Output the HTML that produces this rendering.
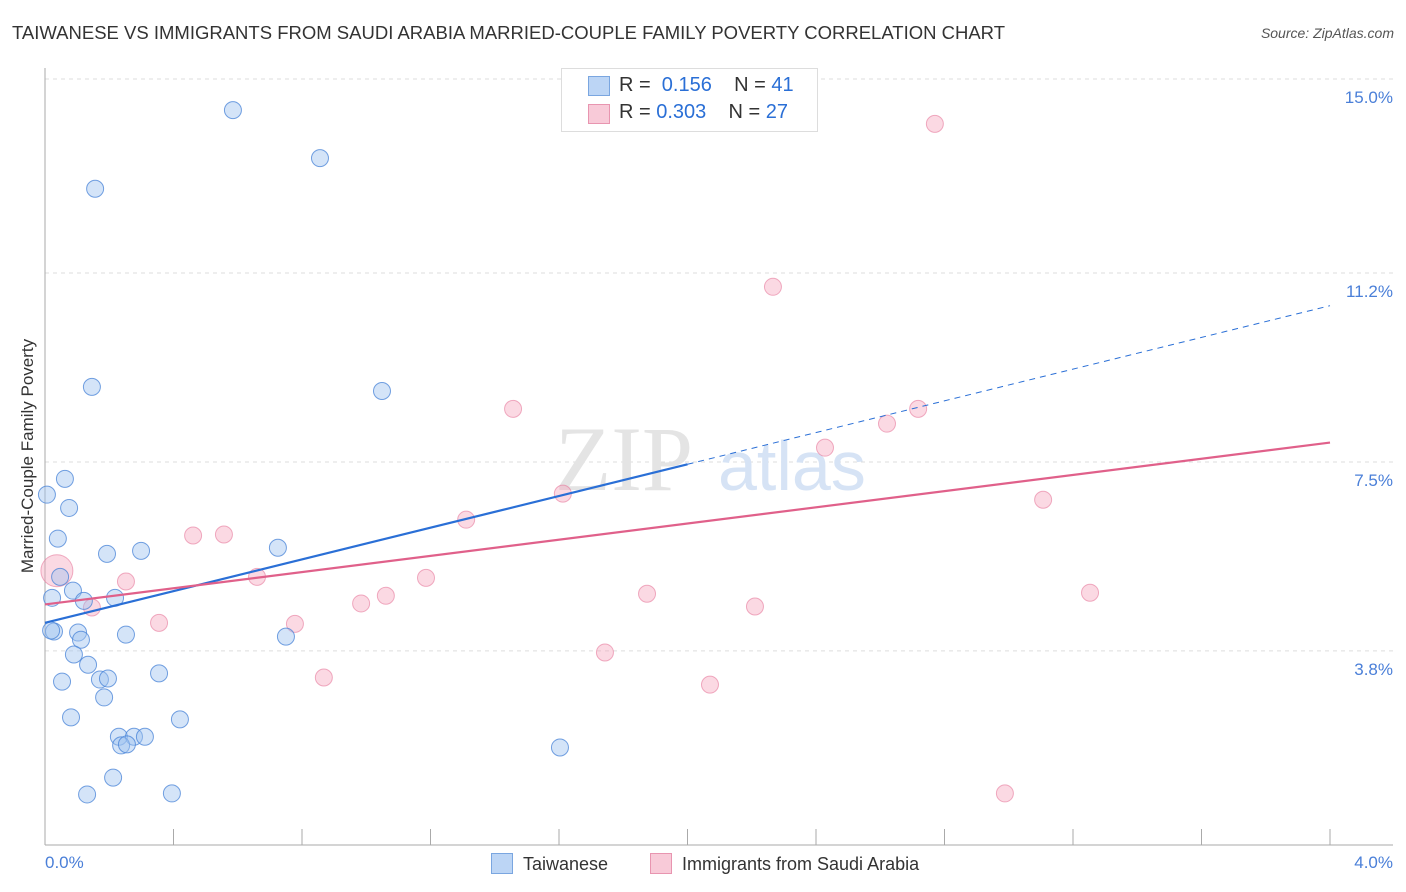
<!DOCTYPE html>
<html><head><meta charset="utf-8"><style>
body{margin:0;background:#fff;font-family:"Liberation Sans",sans-serif;}
#wrap{position:relative;width:1406px;height:892px;overflow:hidden;}
.t{position:absolute;white-space:nowrap;}
</style></head><body>
<div id="wrap">
<div class="t" style="left:12px;top:22px;font-size:18.5px;color:#333;">TAIWANESE VS IMMIGRANTS FROM SAUDI ARABIA MARRIED-COUPLE FAMILY POVERTY CORRELATION CHART</div>
<div class="t" style="right:12px;top:25px;font-size:14px;color:#555;font-style:italic;">Source: ZipAtlas.com</div>
<svg id="svg" width="1406" height="892" style="position:absolute;left:0;top:0"></svg>
</div>
<script>
const blueX=[0.585,0.856,0.156,0.146,1.049,0.062,0.006,0.075,0.040,0.193,0.299,0.725,0.047,0.022,0.218,0.087,0.121,0.028,0.019,0.103,0.112,0.252,0.750,0.090,0.134,0.053,0.171,0.196,0.355,0.184,0.081,0.420,0.230,0.277,0.311,0.237,0.255,1.603,0.212,0.131,0.395];
const blueY=[14.39,13.45,12.85,8.97,8.89,7.17,6.86,6.60,6.00,5.70,5.76,5.82,5.25,4.84,4.84,4.98,4.78,4.18,4.20,4.16,4.02,4.12,4.08,3.73,3.53,3.20,3.24,3.26,3.36,2.89,2.50,2.46,2.12,2.12,2.12,1.95,1.97,1.91,1.32,0.99,1.01];
const pinkX=[0.037,1.457,2.770,2.266,2.718,2.621,2.428,1.612,1.311,3.107,0.461,0.557,0.252,0.660,1.186,1.061,0.984,0.146,0.355,0.778,1.874,2.210,3.253,1.743,0.868,2.070,2.988];
const pinkY=[5.37,8.54,14.12,10.93,8.54,8.25,7.78,6.88,6.37,6.76,6.06,6.08,5.16,5.25,5.23,4.88,4.73,4.65,4.35,4.33,4.92,4.67,4.94,3.77,3.28,3.14,1.01];
const pinkSize=[3,1,1,1,1,1,1,1,1,1,1,1,1,1,1,1,1,1,1,1,1,1,1,1,1,1,1];
const blueTrend=[4.35,10.56];
const pinkTrend=[4.71,7.88];
const yTicks=[15.0,11.2,7.5,3.8];
const yTickLabels=["15.0%","11.2%","7.5%","3.8%"];
const xTicks=[0.4,0.8,1.2,1.6,2.0,2.4,2.8,3.2,3.6,4.0];

const X=v=>45+v*321.25, Y=v=>845-v*51.07;
const svg=document.getElementById('svg');
const NS='http://www.w3.org/2000/svg';
function mk(tag,a){const e=document.createElementNS(NS,tag);for(const k in a)e.setAttribute(k,a[k]);svg.appendChild(e);return e;}
yTicks.forEach((v,i)=>{
 const g=mk('line',{x1:45,x2:1393,y1:Y(v),y2:Y(v),stroke:'#ddd','stroke-dasharray':'4,4'});
 
 
 const t=mk('text',{x:1393,y:Y(v)+24,'text-anchor':'end','font-size':17,fill:'#4a7fd8','font-family':'Liberation Sans'});
 t.textContent=yTickLabels[i];
 
 
});
const ax=mk('line',{x1:45,x2:45,y1:68,y2:845,stroke:'#aaa'});


const bx=mk('line',{x1:45,x2:1393,y1:845,y2:845,stroke:'#aaa'});


xTicks.forEach(v=>{const l=mk('line',{x1:X(v),x2:X(v),y1:829,y2:845,stroke:'#aaa'});
 
 });
const wm=mk('text',{x:555,y:490,'font-size':92,fill:'#e4e4e4','font-family':'Liberation Serif'});wm.textContent='ZIP';


const wm2=mk('text',{x:718,y:490,'font-size':70,fill:'#d6e3f5','font-family':'Liberation Sans'});wm2.textContent='atlas';


pinkX.forEach((x,i)=>{const c=mk('circle',{cx:X(x),cy:Y(pinkY[i]),r:pinkSize[i]>1?16:8.5,fill:'rgba(244,160,185,0.4)',stroke:'rgba(230,120,155,0.6)','stroke-width':1});
 
 });
blueX.forEach((x,i)=>{const c=mk('circle',{cx:X(x),cy:Y(blueY[i]),r:8.5,fill:'rgba(160,196,240,0.45)',stroke:'rgba(70,130,215,0.75)','stroke-width':1});
 
 });
const bAt=v=>blueTrend[0]+(blueTrend[1]-blueTrend[0])*v/4;
const b1=mk('line',{x1:X(0),y1:Y(bAt(0)),x2:X(2),y2:Y(bAt(2)),stroke:'#2a6fd6','stroke-width':2.2});


const b2=mk('line',{x1:X(2),y1:Y(bAt(2)),x2:X(4),y2:Y(bAt(4)),stroke:'#2a6fd6','stroke-width':1,'stroke-dasharray':'6,5'});


const p1=mk('line',{x1:X(0),y1:Y(pinkTrend[0]),x2:X(4),y2:Y(pinkTrend[1]),stroke:'#e0608a','stroke-width':2.2});


</script>
<div class="t" style="left:28px;top:456px;font-size:17px;color:#333;transform:translate(-50%,-50%) rotate(-90deg);">Married-Couple Family Poverty</div>
<div class="t" style="left:45px;top:853px;font-size:17px;color:#4a7fd8;">0.0%</div>
<div class="t" style="right:13px;top:853px;font-size:17px;color:#4a7fd8;">4.0%</div>
<div style="position:absolute;left:561px;top:68px;width:255px;height:62px;border:1px solid #ddd;background:#fff;font-size:20px;color:#333;">
 <div class="t" style="left:26px;top:7px;width:20px;height:18px;background:#bcd5f5;border:1px solid #7aa6e0;"></div>
 <div class="t" style="left:57px;top:5px;">R = <span style="color:#2a6fd6">&nbsp;0.156</span>&nbsp;&nbsp;&nbsp;&nbsp;N = <span style="color:#2a6fd6">41</span></div>
 <div class="t" style="left:26px;top:35px;width:20px;height:18px;background:#f8cad8;border:1px solid #e895b0;"></div>
 <div class="t" style="left:57px;top:32px;">R = <span style="color:#2a6fd6">0.303</span>&nbsp;&nbsp;&nbsp;&nbsp;N = <span style="color:#2a6fd6">27</span></div>
</div>
<div class="t" style="left:491px;top:853px;font-size:18px;color:#333;"><span style="display:inline-block;width:20px;height:19px;background:#bcd5f5;border:1px solid #7aa6e0;vertical-align:-4px;margin-right:10px;"></span>Taiwanese</div>
<div class="t" style="left:650px;top:853px;font-size:18px;color:#333;"><span style="display:inline-block;width:20px;height:19px;background:#f8cad8;border:1px solid #e895b0;vertical-align:-4px;margin-right:10px;"></span>Immigrants from Saudi Arabia</div>
</body></html>
